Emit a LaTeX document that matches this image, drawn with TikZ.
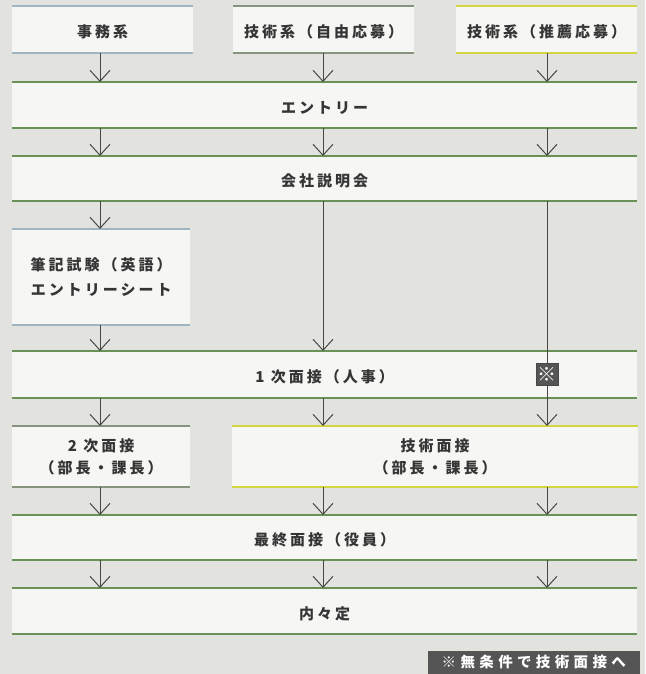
\documentclass[tikz,border=0pt]{standalone}
\usepackage{fontspec}
\setmainfont{Noto Sans CJK JP}
\usetikzlibrary{arrows.meta}
\definecolor{bgc}{HTML}{E2E2DE}
\definecolor{bandc}{HTML}{F6F6F4}
\definecolor{txt}{HTML}{353535}
\definecolor{gl}{HTML}{6A9256}
\definecolor{yl}{HTML}{D2D640}
\definecolor{bl}{HTML}{9FB6C2}
\definecolor{gr}{HTML}{86937F}
\definecolor{arc}{HTML}{474747}
\definecolor{notec}{HTML}{555555}
\newcommand{\lblfont}{\fontsize{15}{24}\selectfont\bfseries\addfontfeatures{LetterSpace=20}}
\begin{document}
\begin{tikzpicture}[x=1pt,y=-1pt,
  box/.style={fill=bandc, inner sep=0pt, anchor=north west, font=\lblfont, text=txt, align=center},
  one/.style={text height=16pt, text depth=0pt},
  gline/.style={draw=gl, line width=1.6pt},
  yline/.style={draw=yl, line width=1.6pt},
  bline/.style={draw=bl, line width=1.3pt},
  grline/.style={draw=gr, line width=1.3pt},
  arr/.style={draw=arc, line width=1pt, -{Straight Barb[length=11pt,width=20pt,line width=1pt]}},
  kome/.style={fill=notec, draw=arc, line width=0.6pt, minimum size=22pt, inner sep=0pt, text=white, font=\fontsize{19}{19}\selectfont\bfseries},
  notebox/.style={fill=notec, inner sep=0pt, minimum width=212pt, minimum height=23pt, text=white, font=\fontsize{14.5}{14.5}\selectfont\bfseries\addfontfeatures{LetterSpace=30}}
]
\useasboundingbox (0,0) rectangle (645,674);
\fill[bgc] (0,0) rectangle (645,674);

\coordinate (c1) at (100,0);
\coordinate (c2) at (323,0);
\coordinate (c3) at (547,0);

% boxes
\node[box, one, minimum width=181pt, minimum height=47pt] (jimu) at (12,6) {事務系};
\node[box, one, minimum width=181pt, minimum height=47pt] (jiyu) at (233,6) {技術系（自由応募）};
\node[box, one, minimum width=181pt, minimum height=47pt] (suisen) at (456,6) {技術系（推薦応募）};
\node[box, one, minimum width=625pt, minimum height=46pt] (entry) at (12,82) {エントリー};
\node[box, one, minimum width=625pt, minimum height=45pt] (setsu) at (12,156) {会社説明会};
\node[box, minimum width=178pt, minimum height=96pt] (hikki) at (12,229) {筆記試験（英語）\\[1pt]エントリーシート};
\node[box, one, minimum width=625pt, minimum height=47pt] (ichiji) at (12,351) {1 次面接（人事）};
\node[box, minimum width=178pt, minimum height=61pt] (niji) at (12,426) {2 次面接\\[-2pt]（部長・課長）};
\node[box, minimum width=406pt, minimum height=61pt] (gijutsu) at (232,426) {技術面接\\[-2pt]（部長・課長）};
\node[box, one, minimum width=625pt, minimum height=45pt] (saishu) at (12,515) {最終面接（役員）};
\node[box, one, minimum width=625pt, minimum height=46pt] (naina) at (12,588) {内々定};

% box rules (top and bottom of each box)
\foreach \b/\s in {jimu/bline,jiyu/grline,suisen/yline,hikki/bline,niji/grline,gijutsu/yline,entry/gline,setsu/gline,ichiji/gline,saishu/gline,naina/gline}{
  \draw[\s] (\b.north west) -- (\b.north east);
  \draw[\s] ([yshift=0.4pt]\b.south west) -- ([yshift=0.4pt]\b.south east);
}

% connectors
\draw[arr] (jimu.south -| c1) -- (entry.north -| c1);
\draw[arr] (jiyu.south -| c2) -- (entry.north -| c2);
\draw[arr] (suisen.south -| c3) -- (entry.north -| c3);
\foreach \c in {c1,c2,c3}{
  \draw[arr] (entry.south -| \c) -- (setsu.north -| \c);
  \draw[arr] (saishu.south -| \c) -- (naina.north -| \c);
}
\draw[arr] (setsu.south -| c1) -- (hikki.north -| c1);
\draw[arr] (hikki.south -| c1) -- (ichiji.north -| c1);
\draw[arr] (setsu.south -| c2) -- (ichiji.north -| c2);
\draw[arr] (setsu.south -| c3) -- (gijutsu.north -| c3);
\draw[arr] (ichiji.south -| c1) -- (niji.north -| c1);
\draw[arr] (ichiji.south -| c2) -- (gijutsu.north -| c2);
\draw[arr] (niji.south -| c1) -- (saishu.north -| c1);
\draw[arr] (gijutsu.south -| c2) -- (saishu.north -| c2);
\draw[arr] (gijutsu.south -| c3) -- (saishu.north -| c3);

\node[kome] (kome) at (ichiji.center -| c3) {※};
\node[notebox, anchor=south east] (note) at (640,674) {※無条件で技術面接へ};
\end{tikzpicture}
\end{document}
